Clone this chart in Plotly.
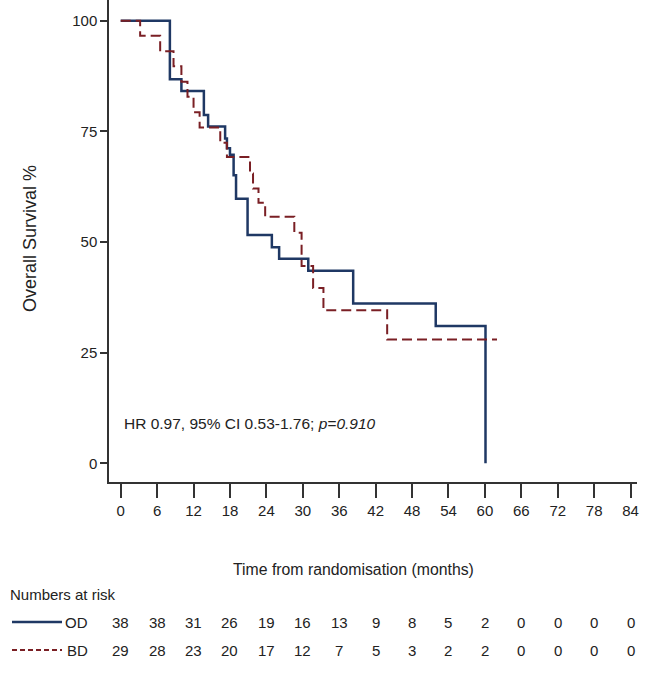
import plotly.graph_objects as go

# ---- data ----
od_time = [0, 8.1, 10.0, 13.7, 14.4, 17.2, 17.5, 18.0, 18.6, 19.0, 20.9, 24.9, 26.1, 30.9, 38.3, 51.9, 60.1]
od_surv = [100, 86.8, 84.1, 78.7, 76.1, 73.4, 71.2, 69.7, 65.1, 59.8, 51.6, 48.8, 46.2, 43.5, 36.1, 31.0, 0]

bd_time = [0, 3.2, 6.5, 8.7, 10.0, 11.0, 12.0, 13.0, 16.4, 17.5, 21.3, 21.8, 22.7, 23.8, 28.6, 29.8, 31.7, 33.4, 43.9, 62.0]
bd_surv = [100, 96.6, 93.1, 89.7, 86.2, 82.8, 79.3, 75.9, 72.4, 69.2, 65.5, 62.1, 58.9, 55.7, 52.1, 44.6, 39.6, 34.6, 28.0, 28.0]

risk_times = [0, 6, 12, 18, 24, 30, 36, 42, 48, 54, 60, 66, 72, 78, 84]
od_risk = [38, 38, 31, 26, 19, 16, 13, 9, 8, 5, 2, 0, 0, 0, 0]
bd_risk = [29, 28, 23, 20, 17, 12, 7, 5, 3, 2, 2, 0, 0, 0, 0]

y_ticks = [0, 25, 50, 75, 100]

OD_COLOR = "#1f3864"
BD_COLOR = "#7a1f24"
FONT = "Liberation Sans, Arial, sans-serif"
TXT = "#222222"

W, H = 647, 675
ML, MR, MT, MB = 109, 10, 0, 193
plot_w = W - ML - MR
plot_h = H - MT - MB


def px_to_paper_x(px):
    return (px - ML) / plot_w


def px_to_paper_y(py):
    return (H - MB - py) / plot_h


fig = go.Figure()
fig.add_trace(go.Scatter(x=od_time, y=od_surv, mode="lines", line_shape="hv",
                         line=dict(color=OD_COLOR, width=2.5), name="OD",
                         showlegend=False))
fig.add_trace(go.Scatter(x=bd_time, y=bd_surv, mode="lines", line_shape="hv",
                         line=dict(color=BD_COLOR, width=2, dash="10px,5px"),
                         name="BD", showlegend=False))

annotations = []
# HR text
annotations.append(dict(x=px_to_paper_x(122), y=px_to_paper_y(423), xref="paper", yref="paper",
                        xanchor="left", yanchor="middle", showarrow=False,
                        text="HR 0.97, 95% CI 0.53-1.76; <i>p=0.910</i>",
                        font=dict(family=FONT, size=15.5, color=TXT)))
# axis titles
annotations.append(dict(x=px_to_paper_x(30), y=px_to_paper_y(239), xref="paper", yref="paper",
                        xanchor="center", yanchor="middle", showarrow=False, textangle=-90,
                        text="Overall Survival %", font=dict(family=FONT, size=18, color=TXT)))
annotations.append(dict(x=px_to_paper_x(353), y=px_to_paper_y(569), xref="paper", yref="paper",
                        xanchor="center", yanchor="middle", showarrow=False,
                        text="Time from randomisation (months)",
                        font=dict(family=FONT, size=15.8, color=TXT)))
# numbers at risk
annotations.append(dict(x=px_to_paper_x(8), y=px_to_paper_y(594), xref="paper", yref="paper",
                        xanchor="left", yanchor="middle", showarrow=False,
                        text="Numbers at risk", font=dict(family=FONT, size=15, color=TXT)))
for label, ypx in (("OD", 622), ("BD", 650)):
    annotations.append(dict(x=px_to_paper_x(90), y=px_to_paper_y(ypx), xref="paper", yref="paper",
                            xanchor="right", yanchor="middle", showarrow=False,
                            text=label, font=dict(family=FONT, size=15, color=TXT)))
for t, a, b in zip(risk_times, od_risk, bd_risk):
    annotations.append(dict(x=t, y=px_to_paper_y(622), xref="x", yref="paper",
                            xanchor="center", yanchor="middle", showarrow=False,
                            text=str(a), font=dict(family=FONT, size=15, color=TXT)))
    annotations.append(dict(x=t, y=px_to_paper_y(650), xref="x", yref="paper",
                            xanchor="center", yanchor="middle", showarrow=False,
                            text=str(b), font=dict(family=FONT, size=15, color=TXT)))

shapes = [
    dict(type="line", xref="paper", yref="paper",
         x0=px_to_paper_x(12), x1=px_to_paper_x(62),
         y0=px_to_paper_y(622), y1=px_to_paper_y(622),
         line=dict(color=OD_COLOR, width=2.5)),
    dict(type="line", xref="paper", yref="paper",
         x0=px_to_paper_x(12), x1=px_to_paper_x(62),
         y0=px_to_paper_y(650), y1=px_to_paper_y(650),
         line=dict(color=BD_COLOR, width=2, dash="5px,3px")),
]

fig.update_layout(
    width=W, height=H,
    margin=dict(l=ML, r=MR, t=MT, b=MB, pad=0),
    paper_bgcolor="white", plot_bgcolor="white",
    font=dict(family=FONT, size=15, color=TXT),
    annotations=annotations, shapes=shapes,
    xaxis=dict(range=[-1.93, 85.06], tickvals=risk_times, ticktext=[str(v) for v in risk_times],
               showline=True, linecolor="#333333", linewidth=1.5,
               ticks="outside", ticklen=14, tickwidth=1.5, tickcolor="#333333",
               showgrid=False, zeroline=False, tickfont=dict(family=FONT, size=15, color=TXT)),
    yaxis=dict(range=[-4.22, 104.68], tickvals=y_ticks, ticktext=[str(v) for v in y_ticks],
               showline=True, linecolor="#333333", linewidth=1.5,
               ticks="outside", ticklen=7, tickwidth=1.5, tickcolor="#333333",
               showgrid=False, zeroline=False, tickfont=dict(family=FONT, size=15, color=TXT)),
)

fig.write_html("out.html",
               config={"displayModeBar": False},
               post_script="document.body.style.margin='0';document.body.style.overflow='hidden';")
